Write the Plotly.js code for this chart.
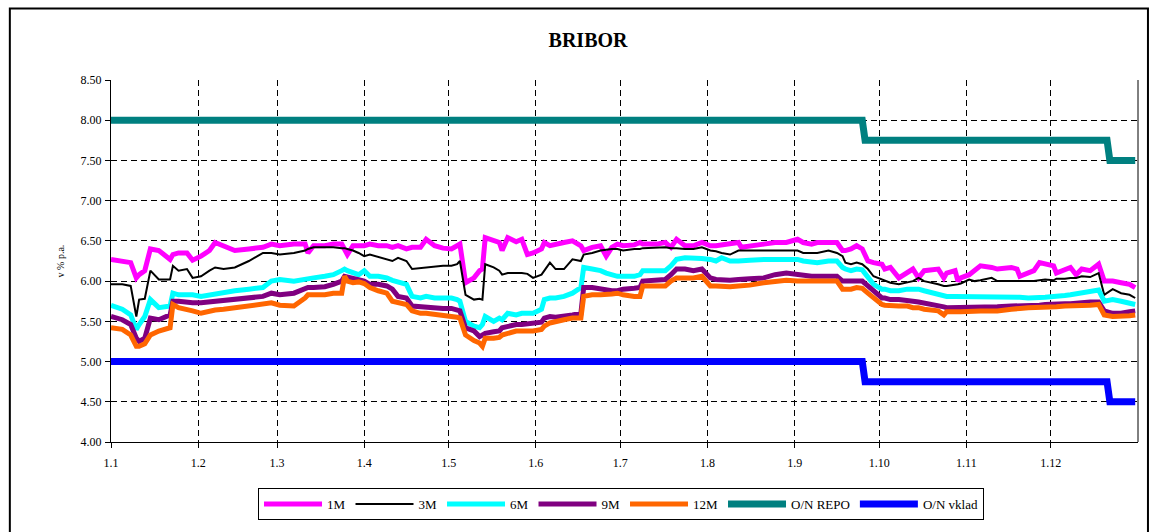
<!DOCTYPE html>
<html>
<head>
<meta charset="utf-8">
<script src="https://cdn.plot.ly/plotly-3.0.1.min.js"></script>
<style>
  html, body { margin: 0; padding: 0; background: #ffffff; }
  #chart { width: 1154px; height: 532px; }
</style>
</head>
<body>
<div id="chart"></div>
<script>
// ---- data ----
const dates = [
  "2001-01-01","2001-01-05","2001-01-08","2001-01-10","2001-01-11","2001-01-13","2001-01-15","2001-01-18",
  "2001-01-22","2001-01-23","2001-01-25","2001-01-28","2001-01-30","2001-02-02","2001-02-05","2001-02-07",
  "2001-02-10","2001-02-14","2001-02-19","2001-02-24","2001-02-27",
  "2001-03-02","2001-03-07","2001-03-11","2001-03-12","2001-03-14","2001-03-18","2001-03-21","2001-03-24",
  "2001-03-25","2001-03-26","2001-03-28","2001-03-30","2001-04-01","2001-04-03","2001-04-06","2001-04-09",
  "2001-04-11","2001-04-13","2001-04-16","2001-04-18","2001-04-21","2001-04-23","2001-04-26","2001-04-29",
  "2001-05-02","2001-05-04","2001-05-05","2001-05-07","2001-05-10","2001-05-12","2001-05-13","2001-05-14",
  "2001-05-17","2001-05-19","2001-05-20","2001-05-22","2001-05-25","2001-05-27","2001-05-29","2001-05-31",
  "2001-06-03","2001-06-04","2001-06-06","2001-06-08","2001-06-11","2001-06-14","2001-06-17","2001-06-18",
  "2001-06-21","2001-06-24","2001-06-26","2001-06-28","2001-06-30",
  "2001-07-02","2001-07-06","2001-07-08","2001-07-09","2001-07-14","2001-07-17","2001-07-19","2001-07-21",
  "2001-07-24","2001-07-27","2001-07-30","2001-08-02","2001-08-04","2001-08-06","2001-08-09","2001-08-12",
  "2001-08-13","2001-08-16","2001-08-21","2001-08-25","2001-08-29",
  "2001-09-02","2001-09-04","2001-09-07","2001-09-09","2001-09-13","2001-09-16","2001-09-18","2001-09-19",
  "2001-09-21","2001-09-23","2001-09-25","2001-09-27","2001-09-29","2001-10-02","2001-10-03","2001-10-05",
  "2001-10-08","2001-10-11","2001-10-13","2001-10-15","2001-10-17","2001-10-22","2001-10-24","2001-10-25",
  "2001-10-28","2001-10-29","2001-10-30",
  "2001-11-02","2001-11-04","2001-11-06","2001-11-10","2001-11-12","2001-11-17","2001-11-19","2001-11-20",
  "2001-11-23","2001-11-25","2001-11-27","2001-11-29","2001-12-02","2001-12-03","2001-12-06","2001-12-08",
  "2001-12-10","2001-12-12","2001-12-15","2001-12-18","2001-12-20","2001-12-23","2001-12-26","2001-12-29",
  "2001-12-31"
];

const m1 = [
  6.27,6.25,6.23,6.04,6.08,6.13,6.40,6.38,6.27,6.33,6.35,6.35,6.26,6.31,6.38,6.48,6.44,6.38,6.40,6.42,6.46,
  6.44,6.46,6.46,6.35,6.44,6.44,6.46,6.46,6.40,6.33,6.44,6.44,6.44,6.46,6.44,6.44,6.42,6.44,6.40,6.42,6.42,6.52,6.44,6.41,
  6.40,6.44,6.46,5.98,6.04,6.13,6.15,6.54,6.51,6.48,6.38,6.54,6.49,6.52,6.33,6.35,
  6.40,6.48,6.44,6.45,6.48,6.50,6.44,6.38,6.42,6.44,6.31,6.42,6.46,
  6.44,6.45,6.48,6.46,6.46,6.48,6.42,6.52,6.44,6.44,6.48,6.44,6.44,6.45,6.46,6.48,6.42,6.44,6.46,6.48,6.48,
  6.52,6.48,6.46,6.48,6.48,6.48,6.38,6.38,6.40,6.44,6.40,6.25,6.23,6.21,6.15,6.17,6.04,6.10,6.15,6.04,6.13,6.15,6.04,6.10,
  6.13,6.00,6.04,
  6.08,6.13,6.19,6.17,6.15,6.17,6.15,6.06,6.10,6.13,6.23,6.21,6.19,6.10,6.15,6.17,6.08,6.15,6.13,6.21,6.00,6.00,5.98,5.96,
  5.92
];

const m3 = [
  5.96,5.96,5.94,5.56,5.77,5.78,6.13,6.02,6.02,6.19,6.13,6.15,6.04,6.06,6.13,6.17,6.15,6.17,6.25,6.35,6.35,
  6.33,6.35,6.38,6.40,6.42,6.42,6.42,6.41,6.41,6.40,6.38,6.35,6.31,6.33,6.30,6.27,6.25,6.29,6.25,6.15,6.16,6.17,6.18,6.19,
  6.19,6.21,6.25,5.83,5.77,5.78,5.77,6.21,6.17,6.13,6.08,6.10,6.10,6.10,6.09,6.04,
  6.08,6.13,6.23,6.15,6.15,6.27,6.25,6.33,6.35,6.38,6.39,6.40,6.40,
  6.38,6.40,6.40,6.41,6.42,6.42,6.41,6.41,6.40,6.40,6.42,6.38,6.37,6.35,6.33,6.38,6.38,6.38,6.38,6.38,6.38,
  6.38,6.35,6.35,6.35,6.38,6.35,6.31,6.23,6.21,6.23,6.21,6.15,6.06,6.02,6.01,5.98,5.96,5.98,6.00,6.04,6.00,5.96,5.94,5.94,
  5.95,5.96,5.97,
  6.02,6.00,6.01,6.04,6.00,6.00,6.00,6.00,6.00,6.00,6.01,6.02,6.01,6.03,6.03,6.04,6.04,6.06,6.05,6.10,5.83,5.90,5.85,5.83,
  5.79
];

const m6 = [
  5.70,5.65,5.58,5.40,5.46,5.56,5.77,5.67,5.69,5.85,5.83,5.83,5.83,5.81,5.83,5.84,5.85,5.88,5.90,5.92,6.00,
  6.02,6.00,6.03,6.04,6.04,6.06,6.08,6.13,6.15,6.13,6.10,6.08,6.13,6.06,6.06,6.04,6.01,5.99,5.96,5.81,5.79,5.81,5.79,5.79,
  5.79,5.77,5.75,5.50,5.44,5.42,5.46,5.56,5.50,5.54,5.52,5.60,5.58,5.60,5.60,5.60,
  5.65,5.77,5.79,5.79,5.81,5.85,5.92,6.17,6.15,6.13,6.10,6.08,6.06,
  6.06,6.06,6.08,6.13,6.13,6.13,6.19,6.27,6.29,6.29,6.28,6.27,6.25,6.29,6.25,6.25,6.25,6.26,6.27,6.27,6.27,
  6.27,6.25,6.23,6.23,6.25,6.25,6.17,6.15,6.13,6.15,6.14,6.06,5.96,5.90,5.90,5.88,5.88,5.90,5.90,5.90,5.88,5.83,5.82,5.81,
  5.81,5.81,5.81,
  5.81,5.81,5.81,5.80,5.80,5.80,5.80,5.80,5.79,5.79,5.79,5.80,5.81,5.81,5.82,5.83,5.84,5.85,5.86,5.89,5.75,5.77,5.75,5.73,
  5.71
];

const m9 = [
  5.56,5.52,5.46,5.29,5.25,5.29,5.54,5.52,5.58,5.75,5.75,5.73,5.73,5.73,5.74,5.75,5.76,5.77,5.79,5.81,5.85,
  5.83,5.85,5.91,5.92,5.92,5.93,5.96,6.00,6.06,6.05,6.03,6.02,6.00,5.96,5.96,5.94,5.90,5.81,5.79,5.69,5.68,5.67,5.67,5.66,
  5.66,5.65,5.63,5.42,5.38,5.31,5.33,5.35,5.37,5.38,5.42,5.44,5.46,5.46,5.47,5.48,
  5.49,5.54,5.56,5.55,5.56,5.58,5.60,5.92,5.92,5.90,5.89,5.88,5.88,
  5.90,5.91,5.92,6.00,6.01,6.02,6.08,6.15,6.15,6.13,6.15,6.04,6.02,6.01,6.01,6.02,6.02,6.03,6.04,6.08,6.10,
  6.08,6.06,6.06,6.06,6.06,6.06,6.00,6.00,6.00,6.00,6.00,5.94,5.88,5.79,5.79,5.77,5.77,5.75,5.75,5.74,5.73,5.69,5.68,5.67,
  5.67,5.67,5.68,
  5.68,5.67,5.67,5.68,5.68,5.69,5.69,5.69,5.70,5.70,5.70,5.71,5.72,5.72,5.72,5.72,5.73,5.73,5.74,5.74,5.63,5.60,5.60,5.62,
  5.63
];

const m12 = [
  5.42,5.40,5.33,5.19,5.19,5.22,5.33,5.38,5.42,5.71,5.67,5.65,5.63,5.60,5.63,5.64,5.65,5.67,5.69,5.71,5.73,
  5.70,5.69,5.79,5.83,5.83,5.83,5.85,5.85,6.06,6.00,5.98,5.99,5.97,5.92,5.88,5.85,5.75,5.73,5.71,5.63,5.60,5.60,5.59,5.58,
  5.56,5.55,5.54,5.33,5.26,5.23,5.19,5.29,5.29,5.30,5.33,5.35,5.38,5.38,5.38,5.38,
  5.40,5.44,5.48,5.50,5.52,5.54,5.54,5.81,5.83,5.83,5.83,5.84,5.85,
  5.83,5.81,5.81,5.94,5.94,5.94,6.00,6.04,6.04,6.04,6.06,5.94,5.94,5.93,5.93,5.94,5.94,5.95,5.98,6.00,6.01,
  6.00,6.00,6.00,6.00,6.00,6.00,5.90,5.90,5.90,5.92,5.91,5.85,5.79,5.71,5.70,5.69,5.69,5.69,5.67,5.67,5.65,5.63,5.58,5.62,
  5.61,5.62,5.62,
  5.63,5.63,5.63,5.63,5.63,5.65,5.65,5.66,5.67,5.67,5.68,5.68,5.68,5.68,5.69,5.69,5.70,5.70,5.70,5.71,5.58,5.56,5.56,5.57,
  5.58
];

const policyDates = ["2001-01-01","2001-09-25","2001-09-26","2001-12-21","2001-12-22","2001-12-31"];
const repo  = [8.00, 8.00, 7.75, 7.75, 7.50, 7.50];
const vklad = [5.00, 5.00, 4.75, 4.75, 4.50, 4.50];

const monthTicks = ["2001-01-01","2001-02-01","2001-03-01","2001-04-01","2001-05-01","2001-06-01",
                    "2001-07-01","2001-08-01","2001-09-01","2001-10-01","2001-11-01","2001-12-01"];
const monthLabels = ["1.1","1.2","1.3","1.4","1.5","1.6","1.7","1.8","1.9","1.10","1.11","1.12"];
const yTicks = [4.0,4.5,5.0,5.5,6.0,6.5,7.0,7.5,8.0,8.5];

// ---- chart ----
const serif = "Liberation Serif, Times New Roman, serif";
function line(name, x, y, color, width) {
  return { type: "scatter", mode: "lines", name: name, x: x, y: y,
           line: { color: color, width: width }, hoverinfo: "x+y" };
}
const traces = [
  line("1M", dates, m1, "#FF00FF", 5),
  line("3M", dates, m3, "#000000", 2),
  line("6M", dates, m6, "#00FFFF", 5),
  line("9M", dates, m9, "#800080", 5),
  line("12M", dates, m12, "#FF6600", 5),
  line("O/N REPO", policyDates, repo, "#008080", 7),
  line("O/N vklad", policyDates, vklad, "#0000FF", 7)
];

const layout = {
  width: 1154, height: 532,
  margin: { l: 111, r: 16, t: 80, b: 90, pad: 0 },
  paper_bgcolor: "#ffffff", plot_bgcolor: "#ffffff",
  font: { family: serif, color: "#000000", size: 11 },
  title: { text: "<b>BRIBOR</b>", font: { family: serif, size: 20, color: "#000" },
           x: 0.4645, xref: "paper", xanchor: "center", y: 1.088, yref: "paper", yanchor: "middle" },
  xaxis: {
    type: "date", range: ["2001-01-01", "2002-01-01"],
    tickmode: "array", tickvals: monthTicks, ticktext: monthLabels,
    showgrid: true, gridcolor: "#000000", gridwidth: 1, griddash: "6px,4px",
    showline: true, linecolor: "#000000", linewidth: 1,
    ticks: "outside", ticklen: 5, tickcolor: "#000", tickfont: { family: serif, size: 12 },
    ticklabelstandoff: 5,
    zeroline: false, fixedrange: true
  },
  yaxis: {
    range: [4.0, 8.5], tickmode: "array", tickvals: yTicks, tickformat: ".2f",
    showgrid: true, gridcolor: "#000000", gridwidth: 1, griddash: "6px,4px",
    showline: true, linecolor: "#000000", linewidth: 1,
    ticks: "outside", ticklen: 5, tickcolor: "#000", tickfont: { family: serif, size: 12 },
    ticklabelstandoff: 1,
    zeroline: false, fixedrange: true,
    title: { text: "v % p.a.", font: { family: serif, size: 10 }, standoff: 14 }
  },
  showlegend: true,
  legend: {
    orientation: "h", x: 0.4966, xanchor: "center", y: -0.127, yanchor: "top",
    bordercolor: "#000000", borderwidth: 1, bgcolor: "#ffffff",
    font: { family: serif, size: 13 }, itemwidth: 58, traceorder: "normal"
  },
  shapes: [
    { type: "line", xref: "paper", yref: "paper", x0: 1, x1: 1, y0: 0, y1: 1,
      line: { color: "#000", width: 1 } },
    { type: "rect", xref: "paper", yref: "paper", x0: -0.0985, x1: 1.0097, y0: -0.28, y1: 1.1975,
      line: { color: "#000", width: 2 }, fillcolor: "rgba(0,0,0,0)" }
  ]
};

Plotly.newPlot("chart", traces, layout, { displayModeBar: false, staticPlot: true });
</script>
</body>
</html>
